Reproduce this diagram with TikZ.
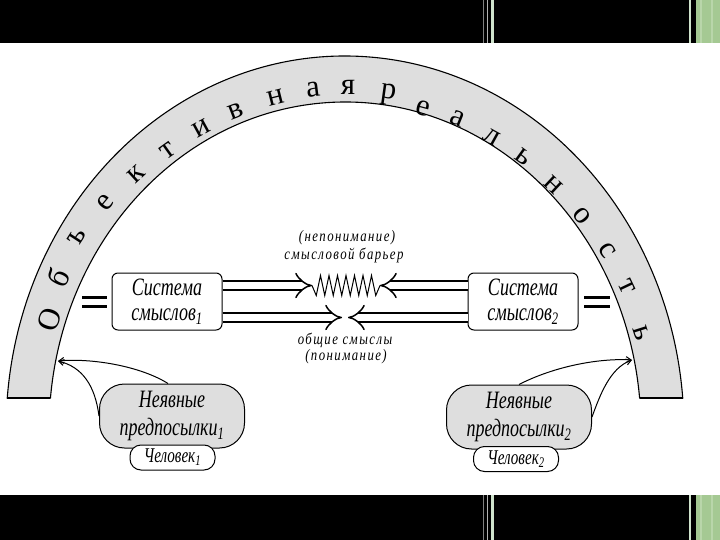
\documentclass[tikz,border=0pt]{standalone}
\usepackage{fontspec}
\setmainfont{Liberation Serif}
\newfontfamily\condf{Liberation Serif}[FakeStretch=0.72]
\newfontfamily\labf{Liberation Serif}[FakeStretch=0.8,LetterSpace=9]
\usetikzlibrary{arrows.meta}
\definecolor{archgray}{HTML}{DEDEDE}
\definecolor{palegreen}{HTML}{CFE3CC}
\definecolor{barsgreen}{HTML}{A5C993}
\definecolor{barsgreenlt}{HTML}{B9D6AA}
\begin{document}
\begin{tikzpicture}[x=1pt,y=-1pt,
  archline/.style={line width=1.1pt},
  archletter/.style={font=\fontsize{31}{31}\selectfont, inner sep=0pt},
  sysbox/.style={draw, line width=1pt, rounded corners=6pt, minimum width=110pt, minimum height=57pt,
    align=center, inner sep=0pt, font=\condf\itshape\fontsize{25}{25}\selectfont},
  predbox/.style={draw, line width=1pt, fill=archgray, rounded corners=25pt, minimum width=145pt, minimum height=64pt,
    align=center, inner sep=0pt, font=\condf\itshape\fontsize{25}{28}\selectfont},
  manbox/.style={draw, line width=1pt, fill=white, rounded corners=11pt, minimum width=85pt, minimum height=25pt,
    inner sep=0pt, font=\condf\itshape\fontsize{21}{21}\selectfont},
  lab/.style={inner sep=0pt, font=\labf\itshape\fontsize{16}{16}\selectfont},
  dbl/.style={double, double distance=7.5pt, line width=1.5pt, -{Implies}},
  eqline/.style={line width=3.2pt},
  curv/.style={line width=1pt, -{Straight Barb[length=5pt,width=6pt]}}
]
\useasboundingbox (0,0) rectangle (720,540);
\fill[white] (0,0) rectangle (720,540);
% frame bars
\fill[black] (0,0) rectangle (720,43);
\fill[black] (0,495) rectangle (720,540);
\foreach \yy/\yb in {0/43,495/540}{
  \draw[gray, line width=0.7pt] (483.5,\yy) -- (483.5,\yb);
  \draw[gray!60, line width=0.6pt] (487.5,\yy) -- (487.5,\yb);
  \draw[palegreen, line width=2.5pt] (492.5,\yy) -- (492.5,\yb);
  \draw[palegreen, line width=2.5pt] (690,\yy) -- (690,\yb);
  \fill[barsgreen] (696,\yy) rectangle (720,\yb);
  \draw[barsgreenlt, line width=2pt] (701,\yy) -- (701,\yb);
  \draw[barsgreenlt, line width=2pt] (712,\yy) -- (712,\yb);
}
% arch
\draw[archline, fill=archgray] (345,430) ++(-175.1:339 and 374)
  arc[start angle=-175.1, end angle=-4.9, x radius=339, y radius=374]
  -- (639.6,398)
  arc[start angle=-5.6, end angle=-174.4, x radius=296, y radius=328]
  -- cycle;
\draw[line width=2pt] (7.2,398) -- (50.4,398);
\draw[line width=2pt] (639.6,398) -- (682.8,398);
% arch letters
\foreach \ch/\x/\y/\t [count=\i] in {О/50/320/161, б/58/278/154, ъ/77/237/147, е/105/203/140,
  к/136/174/132.5, т/168/151/125.5, и/201/128/118.5, в/236/111/111, н/276/98/104,
  а/313/90/97, я/348/87/90, р/388/95/82, е/423/108/75, а/458/118/68, л/492/137/61,
  ь/523/157/54, н/553/185/47, о/582/216/40, с/607/250/33, т/627/287/25.5, ь/641/333/17.5}
  \node[archletter, rotate=\t-90] (let\i) at (\x,\y) {\ch};
% system boxes
\node[sysbox] (sys1) at (167,301.5) {Система\\смыслов\textsubscript{1}};
\node[sysbox] (sys2) at (523,301.5) {Система\\смыслов\textsubscript{2}};
% equal signs
\draw[eqline] (82,297.5) -- (107,297.5) (82,306.5) -- (107,306.5);
\draw[eqline] (584,297.5) -- (610,297.5) (584,306.5) -- (610,306.5);
% arrow ends
\coordinate (zzL) at (312,285.5);
\coordinate (zzR) at (380,285.5);
\coordinate (midL) at (342,317.5);
\coordinate (midR) at (348,317.5);
\draw[dbl] ([yshift=16pt]sys1.east) -- (zzL);
\draw[dbl] ([yshift=16pt]sys2.west) -- (zzR);
\draw[dbl] ([yshift=-16pt]sys1.east) -- (midL);
\draw[dbl] ([yshift=-16pt]sys2.west) -- (midR);
% zigzag barrier
\draw[line width=1pt, line join=miter] (zzL) -- (316.25,295.5) -- (320.5,275.5) -- (324.75,295.5) -- (329,275.5)
  -- (333.25,295.5) -- (337.5,275.5) -- (341.75,295.5) -- (346,275.5) -- (350.25,295.5)
  -- (354.5,275.5) -- (358.75,295.5) -- (363,275.5) -- (367.25,295.5) -- (371.5,275.5)
  -- (375.75,295.5) -- (zzR);
% labels
\node[lab] (l1) at (347,238) {(непонимание)};
\node[lab] (l2) at (344,255) {смысловой барьер};
\node[lab] (l3) at (345,340) {общие смыслы};
\node[lab] (l4) at (346,357) {(понимание)};
% lower boxes
\node[predbox] (pred1) at (172,416) {Неявные\\предпосылки\textsubscript{1}};
\node[predbox] (pred2) at (519,417) {Неявные\\предпосылки\textsubscript{2}};
\node[manbox] (man1) at (172.5,457.5) {Человек\textsubscript{1}};
\node[manbox] (man2) at (516,459) {Человек\textsubscript{2}};
% curved arrows
\coordinate (tipL) at (58,361);
\coordinate (tipR) at (632,360);
\draw[curv] ([xshift=-4pt]pred1.north) .. controls (140,366) and (92,358) .. (tipL);
\draw[curv] (pred1.west) .. controls (95,385) and (82,367) .. (tipL);
\draw[curv] (pred2.north) .. controls (555,366) and (600,358) .. (tipR);
\draw[curv] (pred2.east) .. controls (600,395) and (610,368) .. (tipR);
\end{tikzpicture}
\end{document}
